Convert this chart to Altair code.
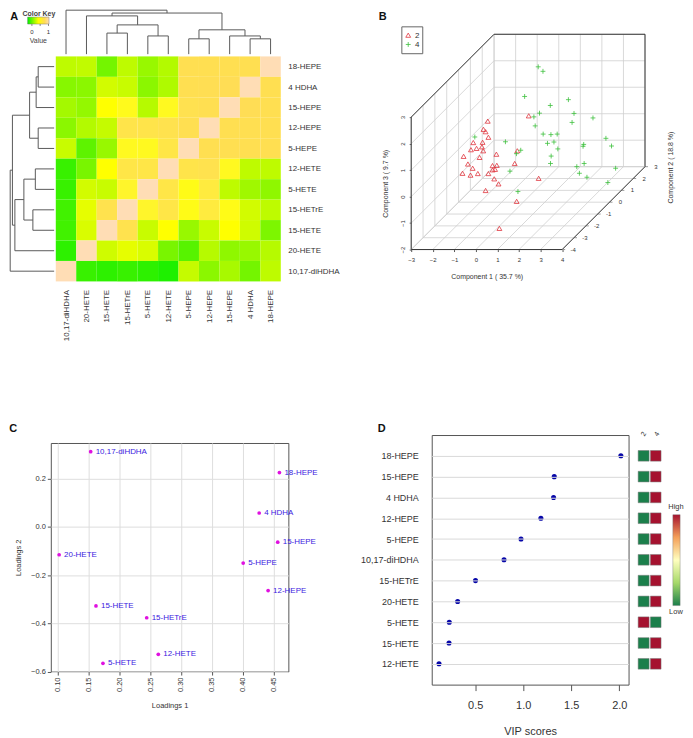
import altair as alt
import pandas as pd

FONT = "Liberation Sans"
TXT = "#333333"

# ---------- A: correlation heatmap ----------
row_names = ["18-HEPE", "4 HDHA", "15-HEPE", "12-HEPE", "5-HEPE", "12-HETE",
             "5-HETE", "15-HETrE", "15-HETE", "20-HETE", "10,17-diHDHA"]
col_names = ["10,17-diHDHA", "20-HETE", "15-HETE", "15-HETrE", "5-HETE", "12-HETE",
             "5-HEPE", "12-HEPE", "15-HEPE", "4 HDHA", "18-HEPE"]
heat = [
    [.30, .31, .12, .30, .20, .27, .76, .76, .76, .76, 1],
    [.16, .17, .36, .33, .17, .26, .76, .77, .78, 1, .76],
    [.23, .19, .50, .54, .28, .55, .75, .76, 1, .78, .76],
    [.17, .27, .32, .72, .72, .74, .76, 1, .76, .76, .76],
    [.33, .08, .20, .55, .55, .70, 1, .76, .76, .76, .76],
    [.03, .13, .50, .70, .70, 1, .72, .74, .55, .30, .30],
    [.03, .36, .33, .58, 1, .70, .53, .66, .30, .22, .18],
    [.04, .42, .74, 1, .58, .70, .53, .66, .53, .36, .30],
    [.04, .38, 1, .74, .33, .50, .20, .33, .50, .35, .14],
    [.02, 1, .35, .42, .38, .13, .07, .28, .18, .20, .28],
    [1, .03, .02, .03, .02, .01, .32, .17, .24, .12, .30],
]
heat_stops = [0, .5, .8, 1]
heat_colors = ["#00F000", "#FFFF00", "#FFDB58", "#FFDDB5"]

# dendrograms: node ids < 100 are leaves, 100+k is merge k
col_left = [2, 4, 100, 1, 9, 8, 6, 106, 103, 0]
col_right = [3, 5, 101, 102, 10, 104, 7, 105, 107, 108]
col_h = [1.14, 1.0, 1.54, 1.98, .86, 1.0, .86, 1.30, 2.12, 2.26]
row_left = [0, 100, 3, 101, 5, 7, 104, 9, 103, 108]
row_right = [1, 2, 4, 102, 6, 8, 105, 106, 107, 10]
row_h = [.86, .96, .86, 1.28, 1.0, 1.12, 1.56, 2.0, 2.12, 2.229]

# ---------- B: 3D PCA (positions along component 1 / 3 as projected on the front plane) ----------
red_c1 = [.55, .35, .45, .58, .31, -.12, .28, .03, -.23, .34, -.57, .17, .95, -.37, -.15, -.62,
          -.25, .09, .58, .77, .97, .78, .89, 1.80, 1.92, 2.45, .85, 1.05, .45, 2.91, 1.89, 1.09]
red_c3 = [2.85, 2.54, 2.45, 2.24, 2.05, 2.04, 1.88, 1.82, 1.77, 1.73, 1.52, 1.48, 1.60, 1.23, 1.07, .88,
          .81, .87, .87, 1.17, 1.18, 1.01, 1.03, 1.25, 1.73, 3.05, .67, .48, .23, .69, -.18, -1.20]
green_c1 = [2.89, 3.11, 2.26, 4.29, 3.45, 2.95, 2.69, 4.55, 4.46, 5.43, 2.75, 3.12, 3.48, 3.77, 3.32,
            3.62, 3.80, 1.37, -.05, 2.08, 1.88, 3.49, 3.46, 1.58, 6.03, 6.29, 5.00, 4.97, 5.02, 4.68,
            4.80, 5.15, 6.48, 6.12, 1.95]
green_c3 = [4.90, 4.73, 3.78, 3.66, 3.44, 3.15, 3.01, 3.14, 2.80, 2.97, 2.67, 2.36, 2.34, 2.36, 2.01,
            2.06, 1.80, 2.07, 2.25, 1.75, 1.62, 1.53, 1.25, .96, 2.20, 1.91, 1.97, 1.90, 1.25, 1.13,
            .88, .73, 1.07, .53, .19]
c1_ticks = [-3, -2, -1, 0, 1, 2, 3, 4]
c2_ticks = [-4, -3, -2, -1, 0, 1, 2, 3]
c3_ticks = [-2, -1, 0, 1, 2, 3]
depth_x, depth_z = .549, .447
red_hex, green_hex = "#E0343C", "#3CC03C"
plus_path = "M-1,0L1,0M0,-1L0,1"

# ---------- C: loadings ----------
load_names = ["10,17-diHDHA", "18-HEPE", "4 HDHA", "15-HEPE", "5-HEPE", "12-HEPE",
              "20-HETE", "15-HETE", "15-HETrE", "12-HETE", "5-HETE"]
load_1 = [.1538, .4597, .4269, .457, .401, .4414, .1027, .1624, .2446, .2634, .1737]
load_2 = [.311, .2247, .057, -.064, -.1505, -.2646, -.116, -.328, -.377, -.5285, -.5656]

# ---------- D: VIP ----------
vip_names = ["18-HEPE", "15-HEPE", "4 HDHA", "12-HEPE", "5-HEPE", "10,17-diHDHA",
             "15-HETrE", "20-HETE", "5-HETE", "15-HETE", "12-HETE"]
vip_vals = [2.017, 1.323, 1.316, 1.184, .977, .80, .503, .317, .23, .227, .123]
vip_g2 = [0, 0, 0, 0, 0, 0, 0, 0, 1, 0, 0]
vip_g4 = [1, 1, 1, 1, 1, 1, 1, 1, 0, 1, 1]
vip_stops = [0, .25, .5, .75, 1]
vip_colors = ["#1B7F4B", "#A6D96A", "#FFFFBF", "#F4A05A", "#A5122F"]


def note(text, x, y, size=8, color=TXT, angle=0, weight="normal", align="center"):
    return alt.Chart(pd.DataFrame({"t": [text]})).mark_text(
        font=FONT, fontSize=size, color=color, angle=angle, fontWeight=weight, align=align, baseline="middle"
    ).encode(text="t:N", x=alt.value(x), y=alt.value(y))


def spacer(w, h):
    return alt.Chart(pd.DataFrame({"a": [0]})).mark_point(opacity=0).encode(
        x=alt.value(0), y=alt.value(0)).properties(width=w, height=h)


def tree(left, right, height, leaf_h):
    nodes = {}
    segs = []

    def get(n):
        return nodes[n] if n >= 100 else (n + .5, leaf_h)
    for k, (a, b, h) in enumerate(zip(left, right, height)):
        pa, ha = get(a)
        pb, hb = get(b)
        segs.append((pa, pb, h, h))
        segs.append((pa, pa, ha, h))
        segs.append((pb, pb, hb, h))
        nodes[100 + k] = ((pa + pb) / 2, h)
    return segs


sx = alt.Scale(domain=[0, 11], nice=False, zero=False)
sy = alt.Scale(domain=[11, 0], nice=False, zero=False)
heat_scale = alt.Scale(domain=heat_stops, range=heat_colors)
heat_df = pd.DataFrame([
    {"x0": j, "x1": j + 1, "y0": i, "y1": i + 1, "v": heat[i][j]}
    for i in range(11) for j in range(11)
])


def label_expr(names):
    return "[" + ",".join("'%s'" % n for n in names) + "][datum.value-0.5]"


centers = [i + .5 for i in range(11)]
ax_a = alt.Axis(values=centers, labelExpr=label_expr(col_names), labelAngle=270, labelAlign="right",
                labelBaseline="middle", tickSize=0, domain=False, grid=False, labelPadding=8,
                labelFontSize=8, labelColor=TXT, labelOverlap=False, labelBound=False)
ay_a = alt.Axis(orient="right", values=centers, labelExpr=label_expr(row_names), tickSize=0, domain=False,
                grid=False, labelPadding=7, labelFontSize=8, labelColor=TXT, labelOverlap=False,
                labelBound=False)
heat_layer = alt.Chart(heat_df).mark_rect().encode(
    x=alt.X("x0:Q", scale=sx, title=None, axis=ax_a),
    x2="x1:Q",
    y=alt.Y("y0:Q", scale=sy, title=None, axis=ay_a),
    y2="y1:Q",
    color=alt.Color("v:Q", scale=heat_scale, legend=None),
)
top_segs = tree(col_left, col_right, col_h, .11)
top_df = pd.DataFrame([{"x": a, "x2": b, "y": -c, "y2": -d} for a, b, c, d in top_segs])
left_segs = tree(row_left, row_right, row_h, .08)
left_df = pd.DataFrame([{"x": -c, "x2": -d, "y": a, "y2": b} for a, b, c, d in left_segs])


def tree_layer(df):
    return alt.Chart(df).mark_rule(color="#5a5a5a", strokeWidth=1).encode(
        x=alt.X("x:Q", scale=sx, title=None, axis=ax_a), x2="x2:Q",
        y=alt.Y("y:Q", scale=sy, title=None, axis=ay_a), y2="y2:Q")


def grad(colors, stops, x1, y1, x2, y2):
    return alt.Gradient(gradient="linear", x1=x1, y1=y1, x2=x2, y2=y2,
                        stops=[alt.GradientStop(color=c, offset=o) for c, o in zip(colors, stops)])


key_bar = alt.Chart(pd.DataFrame({"a": [0]})).mark_rect(
    color=grad(heat_colors, [.0, .5, .8, 1], 0, 0, 1, 0), stroke="#666666", strokeWidth=.4
).encode(x=alt.value(-28.3), x2=alt.value(-6.8), y=alt.value(-39.5), y2=alt.value(-32.5))
key_ticks = [
    alt.Chart(pd.DataFrame({"a": [0]})).mark_rule(color="#444444", strokeWidth=.6).encode(
        x=alt.value(x), y=alt.value(-32.5), y2=alt.value(-30.5))
    for x in (-24, -15.7, -7.3)
]
panel_a = alt.layer(
    heat_layer, tree_layer(top_df), tree_layer(left_df), key_bar, *key_ticks,
    note("Color Key", -17, -42.3, size=7, weight="bold", color="#444444"),
    note("0", -24, -25, size=6), note("1", -7.3, -25, size=6),
    note("Value", -17.5, -15, size=7, color="#444444"),
    note("A", -45.8, -39.5, size=11, weight="bold", color="#111111", align="left"),
).properties(width=226, height=226)


# ---------- B ----------
def proj(c1, c2, c3):
    return c1 + depth_x * (c2 + 4), c3 + depth_z * (c2 + 4)


def seg(a, b):
    p, q = proj(*a), proj(*b)
    return {"x": p[0], "x2": q[0], "y": p[1], "y2": q[1]}


grid_rows = []
for c in c1_ticks:
    grid_rows.append(seg((c, -4, -2), (c, 3, -2)))
    grid_rows.append(seg((c, 3, -2), (c, 3, 3)))
for c in c2_ticks:
    grid_rows.append(seg((-3, c, -2), (4, c, -2)))
    grid_rows.append(seg((-3, c, -2), (-3, c, 3)))
for c in c3_ticks:
    grid_rows.append(seg((-3, -4, c), (-3, 3, c)))
    grid_rows.append(seg((-3, 3, c), (4, 3, c)))
box_rows = [seg((-3, -4, 3), (-3, 3, 3)), seg((-3, 3, 3), (4, 3, 3)), seg((4, 3, 3), (4, 3, -2)),
            seg((4, 3, -2), (4, -4, -2)), seg((4, -4, -2), (-3, -4, -2)), seg((-3, -4, -2), (-3, -4, 3))]
c2_rows = [dict(zip(("x", "y"), proj(4, c, -2)), t=str(c)) for c in c2_ticks]
c2_tick_rows = [dict(x=r["x"], x2=r["x"] + .14, y=r["y"], y2=r["y"]) for r in c2_rows]

bx = alt.Scale(domain=[-3, 4], nice=False, zero=False)
bz = alt.Scale(domain=[-2, 3], nice=False, zero=False)
ax_b = alt.Axis(values=c1_ticks, format="d", domain=False, grid=False, tickSize=2, tickColor="#555555",
                labelFontSize=6, labelColor=TXT, labelPadding=5, titleFontSize=7, titleFontWeight="normal",
                titleColor=TXT, titlePadding=10, labelFlush=False)
ay_b = alt.Axis(values=c3_ticks, format="d", domain=False, grid=False, tickSize=2, tickColor="#555555",
                labelFontSize=6, labelColor=TXT, labelPadding=4, labelAngle=270, labelAlign="center",
                labelBaseline="bottom", titleFontSize=7, titleFontWeight="normal", titleColor=TXT,
                titlePadding=11, labelFlush=False)
bx_title, bz_title = "Component 1 ( 35.7 %)", "Component 3 ( 9.7 %)"


def X_b(field="x:Q"):
    return alt.X(field, scale=bx, title=bx_title, axis=ax_b)


def Y_b(field="y:Q"):
    return alt.Y(field, scale=bz, title=bz_title, axis=ay_b)


def rule3d(rows, color, width):
    return alt.Chart(pd.DataFrame(rows)).mark_rule(color=color, strokeWidth=width).encode(
        x=X_b(), x2="x2:Q", y=Y_b(), y2="y2:Q")


pts = pd.DataFrame(
    [{"x": a, "y": b, "g": "2"} for a, b in zip(red_c1, red_c3)]
    + [{"x": a, "y": b, "g": "4"} for a, b in zip(green_c1, green_c3)]
)
pts_layer = alt.Chart(pts).mark_point(filled=False, size=24, strokeWidth=.8, opacity=1).encode(
    x=X_b(), y=Y_b(),
    color=alt.Color("g:N", scale=alt.Scale(domain=["2", "4"], range=[red_hex, green_hex]), legend=None),
    shape=alt.Shape("g:N", scale=alt.Scale(domain=["2", "4"], range=["triangle-up", plus_path]), legend=None),
)
c2_labels = alt.Chart(pd.DataFrame(c2_rows)).mark_text(font=FONT, fontSize=6, color=TXT, dx=11).encode(
    x=X_b(), y=Y_b(), text="t:N")


def legend_symbol(shape, color, y):
    return alt.Chart(pd.DataFrame({"a": [0]})).mark_point(
        shape=shape, color=color, filled=False, size=24, strokeWidth=.8, opacity=1
    ).encode(x=alt.value(-3), y=alt.value(y))


legend_box = alt.Chart(pd.DataFrame({"a": [0]})).mark_rect(
    fillOpacity=0, stroke="#666666", strokeWidth=1
).encode(x=alt.value(-9.4), x2=alt.value(11.6), y=alt.value(-90.7), y2=alt.value(-63.7))
panel_b = alt.layer(
    rule3d(grid_rows, "#cfcfcf", .8), rule3d(box_rows, "#333333", 1), rule3d(c2_tick_rows, "#555555", .6),
    pts_layer, c2_labels, legend_box,
    legend_symbol("triangle-up", red_hex, -82.3), legend_symbol(plus_path, green_hex, -73),
    note("2", 6, -81.7, size=8), note("4", 6, -72.3, size=8),
    note("Component 2 ( 18.8 %)", 260.6, 50.7, size=7, angle=270),
    note("B", -32.7, -100.5, size=11, weight="bold", color="#111111", align="left"),
).properties(width=151.6, height=133)

# ---------- C ----------
cx = alt.Scale(domain=[.0892, .4742], nice=False, zero=False)
cy = alt.Scale(domain=[-.6, .347], nice=False, zero=False)
load_df = pd.DataFrame({"a": load_1, "b": load_2, "n": load_names})
ax_c = alt.Axis(values=[.10, .15, .20, .25, .30, .35, .40, .45], format=".2f", labelAngle=270, labelAlign="right",
                labelBaseline="middle", domain=False, grid=True, gridColor="#dedede", gridWidth=1, tickSize=3.5,
                tickColor="#555555", labelFontSize=7.5, labelColor=TXT, titleFontSize=7.5, titleFontWeight="normal",
                titleColor=TXT, titlePadding=10, labelFlush=False)
ay_c = alt.Axis(values=[.2, 0, -.2, -.4, -.6], format=".1f", domain=False, grid=True, gridColor="#dedede", gridWidth=1,
                tickSize=3.5, tickColor="#555555", labelFontSize=7.5, labelColor=TXT, titleFontSize=7.5,
                titleFontWeight="normal", titleColor=TXT, titlePadding=8, labelFlush=False)
c_points = alt.Chart(load_df).mark_circle(size=14, color="#E010E0", opacity=1).encode(
    x=alt.X("a:Q", scale=cx, title="Loadings 1", axis=ax_c),
    y=alt.Y("b:Q", scale=cy, title="Loadings 2", axis=ay_c),
)
c_text = alt.Chart(load_df).mark_text(font=FONT, align="left", dx=5, fontSize=8, color="#3A20E0").encode(
    x=alt.X("a:Q", scale=cx, title="Loadings 1", axis=ax_c),
    y=alt.Y("b:Q", scale=cy, title="Loadings 2", axis=ay_c), text="n:N")
panel_c = alt.layer(
    c_points, c_text,
    note("C", -41.7, -14, size=11, weight="bold", color="#111111", align="left"),
).properties(width=238.6, height=229.6, view=alt.ViewConfig(stroke="#555555", strokeWidth=1))

# ---------- D ----------
dx = alt.Scale(domain=[.047, 2.097], nice=False, zero=False)
dy = alt.Scale(type="point", domain=vip_names, padding=1)
dc = alt.Scale(domain=vip_stops, range=vip_colors)
vip_df = pd.DataFrame({"n": vip_names, "v": vip_vals})
ax_d = alt.Axis(values=[.5, 1, 1.5, 2], format=".1f", domain=False, grid=False, tickSize=6, tickColor="#555555",
                labelFontSize=11, labelColor=TXT, labelPadding=9, titleFontSize=11, titleFontWeight="normal",
                titleColor=TXT, titlePadding=15, labelFlush=False)
ay_d = alt.Axis(domain=False, grid=True, gridColor="#d9d9d9", gridWidth=1, tickSize=0, labelFontSize=9,
                labelColor=TXT, labelPadding=13.5, labelOverlap=False, labelBound=False)
d_points = alt.Chart(vip_df).mark_circle(size=26, color="#0606A8", opacity=1).encode(
    x=alt.X("v:Q", scale=dx, title="VIP scores", axis=ax_d),
    y=alt.Y("n:N", scale=dy, sort=vip_names, title=None, axis=ay_d),
)
cells_df = pd.DataFrame(
    [{"n": n, "x0": 2.197, "x1": 2.311, "v": v} for n, v in zip(vip_names, vip_g2)]
    + [{"n": n, "x0": 2.325, "x1": 2.4355, "v": v} for n, v in zip(vip_names, vip_g4)]
)
d_cells = alt.Chart(cells_df).mark_rect(height=10.7, stroke="#777777", strokeWidth=.5).encode(
    x=alt.X("x0:Q", scale=dx, title="VIP scores", axis=ax_d), x2="x1:Q",
    y=alt.Y("n:N", scale=dy, sort=vip_names, title=None, axis=ay_d),
    color=alt.Color("v:Q", scale=dc, legend=None),
)
d_bar = alt.Chart(pd.DataFrame({"a": [0]})).mark_rect(
    color=grad(vip_colors, vip_stops, 0, 1, 0, 0), stroke="#777777", strokeWidth=.4
).encode(x=alt.value(242.2), x2=alt.value(249.5), y=alt.value(80), y2=alt.value(171.3))
panel_d = alt.layer(
    d_cells, d_points, d_bar,
    note("2", 213, -1, size=7, angle=300), note("4", 226.3, -1, size=7, angle=300),
    note("High", 245.3, 72.7, size=7.5), note("Low", 245.3, 178, size=7.5),
    note("D", -54.3, -6.3, size=11, weight="bold", color="#111111", align="left"),
).properties(width=197.7, height=250.7, view=alt.ViewConfig(stroke="#555555", strokeWidth=1))

# ---------- layout ----------
group_a = alt.hconcat(spacer(4.6, 10), panel_a, spacing=0, bounds="flush")
group_b = alt.vconcat(spacer(10, 61), panel_b, spacing=0, bounds="flush")
group_c = alt.vconcat(spacer(10, 7.4), panel_c, spacing=0, bounds="flush")
row1 = alt.hconcat(group_a, group_b, spacing=362, bounds="flush")
row2 = alt.hconcat(group_c, panel_d, spacing=382.6, bounds="flush")
chart = alt.vconcat(row1, row2, spacing=380.3, bounds="flush").properties(
    padding={"left": 0, "right": 0, "top": 0, "bottom": 0}
).configure(font=FONT).configure_axis(labelFont=FONT, titleFont=FONT).configure_view(stroke=None)

chart.save("out.html", embed_options={"renderer": "svg", "actions": False})
